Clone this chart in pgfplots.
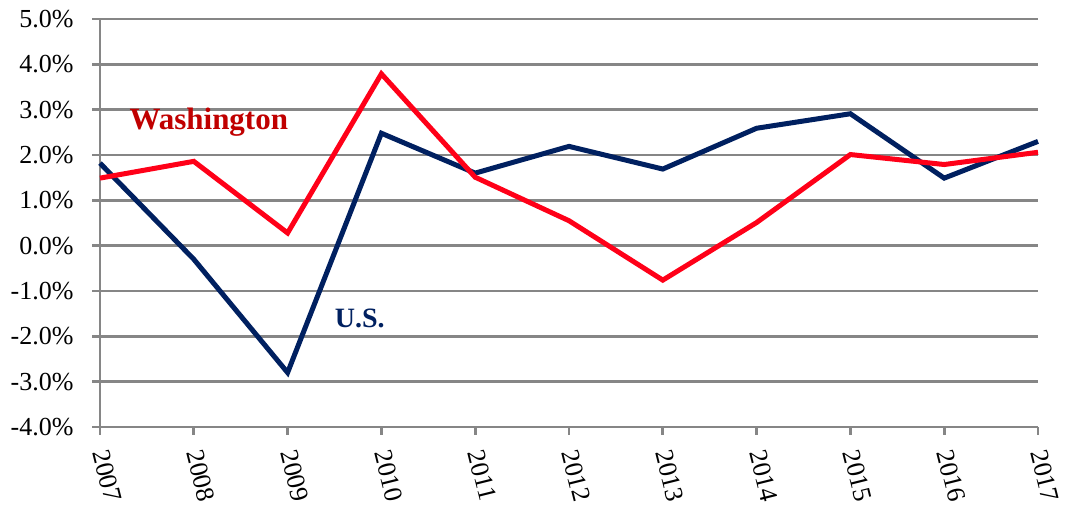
\documentclass[border=0pt]{standalone}
\usepackage{fontspec}
\setmainfont{Liberation Serif}
\usepackage{pgfplots}
\pgfplotsset{compat=1.18}
\definecolor{gridgray}{HTML}{868686}
\definecolor{wared}{HTML}{FF0018}
\definecolor{watext}{HTML}{C00000}
\definecolor{usnavy}{HTML}{002060}
\begin{document}
\begin{tikzpicture}
\useasboundingbox (-100pt,-81pt) rectangle (968pt,427pt);
\begin{axis}[
  scale only axis,
  width=938pt, height=408pt,
  xmin=2007, xmax=2017, ymin=-4, ymax=5,
  xtick={2007,...,2017},
  ytick={-4,-3,...,5},
  axis x line*=bottom,
  axis y line*=left,
  axis line style={gridgray, line width=2.8pt},
  every tick/.style={gridgray, line width=2.8pt},
  major tick length=8pt,
  tick align=outside,
  ymajorgrids,
  major grid style={gridgray, line width=2.8pt},
  /pgf/number format/assume math mode=true,
  xticklabel={\pgfmathprintnumber[1000 sep={}]{\tick}},
  yticklabel={\pgfmathprintnumber[fixed,fixed zerofill,precision=1]{\tick}\%},
  ticklabel style={font=\fontsize{26}{28}\selectfont, text=black},
  yticklabel style={xshift=-15pt},
  xticklabel style={anchor=north west, xshift=12pt, yshift=-9pt, rotate=-76},
  clip=false,
]
\addplot[usnavy, line width=5pt] coordinates {
(2007,1.82) (2008,-0.30) (2009,-2.80) (2010,2.48) (2011,1.60) (2012,2.19)
(2013,1.69) (2014,2.59) (2015,2.91) (2016,1.49) (2017,2.30)};
\addplot[wared, line width=5pt] coordinates {
(2007,1.49) (2008,1.86) (2009,0.28) (2010,3.79) (2011,1.51) (2012,0.55)
(2013,-0.76) (2014,0.51) (2015,2.01) (2016,1.79) (2017,2.06)};
\node[text=watext, font=\fontsize{31}{33}\selectfont\bfseries] at (axis cs:2008.16,2.72) {Washington};
\node[text=usnavy, font=\fontsize{28}{30}\selectfont\bfseries] at (axis cs:2009.77,-1.61) {U.S.};
\end{axis}
\end{tikzpicture}
\end{document}
